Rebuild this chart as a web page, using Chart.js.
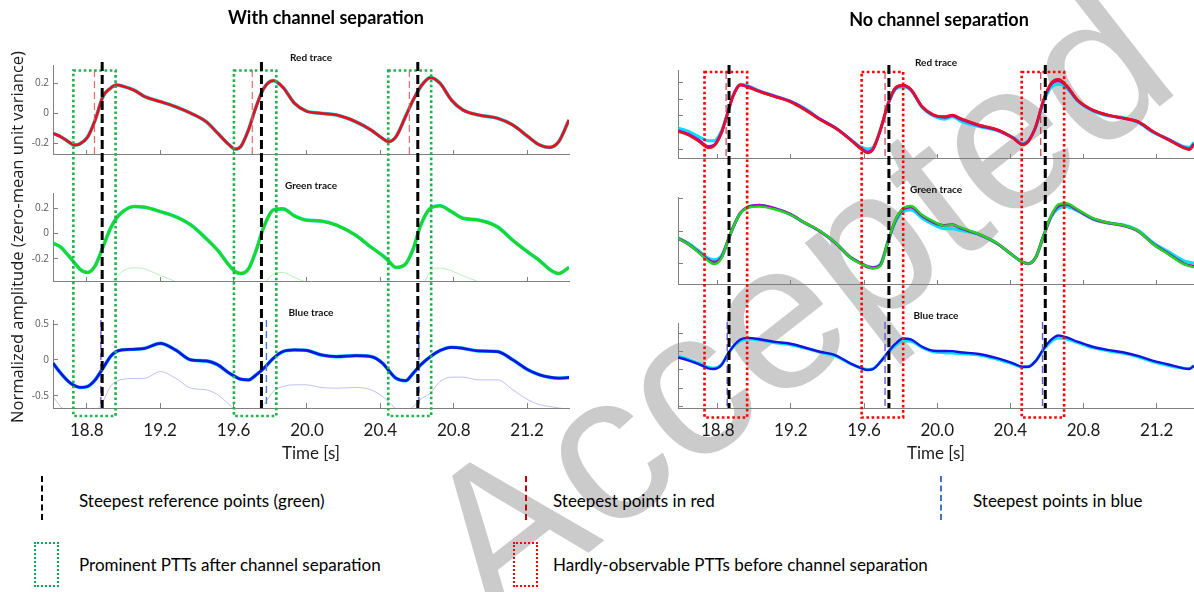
<!DOCTYPE html>
<html>
<head>
<meta charset="utf-8">
<script src="https://cdn.jsdelivr.net/npm/chart.js@4.4.1/dist/chart.umd.min.js"></script>
<style>
  body { margin: 0; width: 1194px; height: 592px; overflow: hidden; background: #fff; position: relative; font-family: Lato, sans-serif; }
  #wm { position: absolute; left: 795px; top: 300px; transform: translate(-50%, -50%) rotate(-38deg); font: 210px 'Liberation Sans', Arial, sans-serif; color: #cbcbcb; white-space: nowrap; line-height: 1; }
  canvas { position: absolute; top: 0; }
  .ttl { position: absolute; font-weight: bold; font-size: 18px; transform: translate(-50%, -50%); white-space: nowrap; color: #000; }
  .leg { position: absolute; font-size: 17px; color: #000; transform: translateY(-50%); white-space: nowrap; }
  .dash { position: absolute; width: 0; height: 44px; border-left: 2px dashed; }
  .box { position: absolute; width: 21px; height: 41px; border: 2.5px dotted; }
</style>
</head>
<body>
<div id="wm">Accepted</div>
<canvas id="leftChart" width="580" height="470" style="left:0"></canvas>
<canvas id="rightChart" width="594" height="470" style="left:600px"></canvas>
<div class="ttl" style="left:326px; top:17px">With channel separation</div>
<div class="ttl" style="left:939px; top:19px">No channel separation</div>

<div class="dash" style="left:41px; top:476px; border-color:#000"></div>
<div class="leg" style="left:79px; top:500px">Steepest reference points (green)</div>
<div class="dash" style="left:525px; top:476px; border-color:#c00000"></div>
<div class="leg" style="left:553px; top:500px">Steepest points in red</div>
<div class="dash" style="left:940px; top:476px; border-color:#4472c4"></div>
<div class="leg" style="left:973px; top:500px">Steepest points in blue</div>
<div class="box" style="left:34px; top:542px; border-color:#00b050"></div>
<div class="leg" style="left:79px; top:564px">Prominent PTTs after channel separation</div>
<div class="box" style="left:513px; top:542px; border-color:#ff0000"></div>
<div class="leg" style="left:553px; top:564px">Hardly-observable PTTs before channel separation</div>

<script>
// ---- With channel separation (left) ----
const timeL = [18.616, 18.658, 18.700, 18.731, 18.762, 18.804, 18.846, 18.888, 18.929, 18.961,
  18.992, 19.055, 19.117, 19.201, 19.284, 19.368, 19.451, 19.514, 19.577, 19.608,
  19.639, 19.681, 19.723, 19.765, 19.817, 19.869, 19.932, 19.994, 20.078, 20.161,
  20.266, 20.349, 20.412, 20.443, 20.485, 20.537, 20.579, 20.620, 20.673, 20.725,
  20.787, 20.850, 20.934, 21.038, 21.122, 21.205, 21.268, 21.320, 21.372, 21.428];
const redL = [-0.133, -0.156, -0.189, -0.211, -0.204, -0.16, -0.044, 0.111, 0.167, 0.189,
  0.182, 0.156, 0.111, 0.078, 0.044, 0, -0.056, -0.133, -0.211, -0.238,
  -0.222, -0.111, 0.044, 0.167, 0.218, 0.173, 0.067, 0.016, 0, -0.011,
  -0.056, -0.111, -0.167, -0.189, -0.156, -0.022, 0.089, 0.178, 0.238, 0.2,
  0.089, 0.022, -0.011, -0.033, -0.078, -0.156, -0.211, -0.227, -0.189, -0.044];
const greenL = [-0.075, -0.107, -0.173, -0.227, -0.28, -0.307, -0.253, -0.107, 0.04, 0.12,
  0.168, 0.213, 0.208, 0.173, 0.133, 0.067, -0.04, -0.133, -0.253, -0.299,
  -0.315, -0.28, -0.133, 0.053, 0.187, 0.195, 0.139, 0.107, 0.099, 0.067,
  -0.013, -0.107, -0.173, -0.213, -0.267, -0.24, -0.12, 0.067, 0.2, 0.219,
  0.173, 0.12, 0.107, 0.053, -0.053, -0.147, -0.213, -0.28, -0.315, -0.267];
const blueL = [-0.046, -0.185, -0.301, -0.356, -0.384, -0.37, -0.278, -0.116, 0.046, 0.116,
  0.139, 0.148, 0.162, 0.231, 0.139, 0, -0.014, -0.069, -0.185, -0.231,
  -0.269, -0.278, -0.208, -0.116, 0.023, 0.116, 0.139, 0.134, 0.069, 0.046,
  0.06, 0.046, -0.046, -0.139, -0.255, -0.29, -0.185, -0.069, 0.046, 0.13,
  0.176, 0.162, 0.125, 0.116, 0, -0.139, -0.208, -0.241, -0.255, -0.245];
const greenFaintL = [-0.6, -0.62, -0.65, -0.66, -0.66, -0.64, -0.58, -0.5, -0.4, -0.35,
  -0.3, -0.27, -0.28, -0.33, -0.38, -0.45, -0.53, -0.6, -0.68, -0.7,
  -0.7, -0.62, -0.5, -0.4, -0.32, -0.307, -0.347, -0.381, -0.4, -0.43,
  -0.5, -0.58, -0.64, -0.67, -0.7, -0.67, -0.58, -0.45, -0.3, -0.272,
  -0.293, -0.333, -0.38, -0.45, -0.52, -0.6, -0.65, -0.7, -0.72, -0.7];
const blueFaintL = [-0.51, -0.65, -0.74, -0.8, -0.82, -0.8, -0.72, -0.58, -0.37, -0.3,
  -0.27, -0.26, -0.255, -0.162, -0.255, -0.394, -0.417, -0.486, -0.625, -0.7,
  -0.74, -0.75, -0.7, -0.62, -0.44, -0.37, -0.347, -0.347, -0.384, -0.394,
  -0.384, -0.417, -0.51, -0.58, -0.68, -0.72, -0.65, -0.55, -0.46, -0.3,
  -0.24, -0.24, -0.278, -0.278, -0.417, -0.556, -0.625, -0.648, -0.67, -0.69];
const refL = [18.884, 19.752, 20.604];
const redSteepL = [18.842, 19.702, 20.558];
const blueSteepL = [18.877, 19.779, 20.610];
const pttStartL = [18.727, 19.602, 20.443];
const pttEndL = [18.957, 19.833, 20.677];

// ---- No channel separation (right) ----
const timeR = [18.583, 18.634, 18.696, 18.748, 18.779, 18.821, 18.852, 18.883, 18.924, 18.966,
  19.028, 19.111, 19.193, 19.276, 19.359, 19.442, 19.525, 19.587, 19.618, 19.649,
  19.690, 19.732, 19.773, 19.814, 19.856, 19.918, 19.980, 20.042, 20.084, 20.125,
  20.229, 20.332, 20.415, 20.467, 20.498, 20.539, 20.581, 20.622, 20.663, 20.705,
  20.767, 20.850, 20.932, 21.015, 21.098, 21.181, 21.264, 21.347, 21.378, 21.404];
const redR = [-0.094, -0.114, -0.154, -0.194, -0.184, -0.104, 0.006, 0.116, 0.186, 0.172,
  0.146, 0.116, 0.086, 0.036, -0.024, -0.074, -0.144, -0.204, -0.224, -0.204,
  -0.084, 0.076, 0.172, 0.186, 0.16, 0.056, 0.006, -0.004, 0.006, -0.014,
  -0.054, -0.084, -0.134, -0.174, -0.154, -0.064, 0.096, 0.196, 0.22, 0.186,
  0.096, 0.036, 0.006, -0.014, -0.034, -0.094, -0.144, -0.194, -0.204, -0.174];
const redMagR = [-0.09, -0.108, -0.146, -0.185, -0.178, -0.1, 0.008, 0.116, 0.186, 0.175,
  0.148, 0.118, 0.088, 0.04, -0.02, -0.072, -0.142, -0.2, -0.218, -0.2,
  -0.084, 0.074, 0.168, 0.183, 0.158, 0.054, 0.004, -0.008, 0.002, -0.018,
  -0.058, -0.087, -0.134, -0.172, -0.152, -0.064, 0.092, 0.19, 0.212, 0.182,
  0.094, 0.034, 0.004, -0.014, -0.036, -0.096, -0.143, -0.19, -0.2, -0.17];
const redCyanR = [-0.074, -0.09, -0.125, -0.15, -0.15, -0.09, 0.01, 0.12, 0.19, 0.18,
  0.15, 0.12, 0.09, 0.045, -0.02, -0.07, -0.14, -0.19, -0.2, -0.19,
  -0.08, 0.07, 0.16, 0.175, 0.155, 0.05, 0.0, -0.02, -0.005, -0.03,
  -0.065, -0.09, -0.13, -0.165, -0.15, -0.07, 0.08, 0.17, 0.19, 0.17,
  0.09, 0.03, 0.0, -0.01, -0.04, -0.1, -0.14, -0.185, -0.19, -0.16];
const greenR = [-0.043, -0.076, -0.131, -0.182, -0.202, -0.165, -0.07, 0.02, 0.11, 0.145,
  0.151, 0.135, 0.104, 0.053, 0.002, -0.069, -0.161, -0.202, -0.216, -0.229,
  -0.212, -0.059, 0.073, 0.141, 0.155, 0.1, 0.06, 0.033, 0.039, 0.025,
  -0.018, -0.077, -0.151, -0.19, -0.2, -0.161, -0.029, 0.094, 0.165, 0.172,
  0.135, 0.08, 0.053, 0.037, 0.002, -0.08, -0.141, -0.202, -0.213, -0.222];
const greenMagR = [-0.043, -0.075, -0.128, -0.175, -0.19, -0.16, -0.07, 0.02, 0.112, 0.15,
  0.16, 0.14, 0.106, 0.052, 0.0, -0.07, -0.16, -0.2, -0.218, -0.225,
  -0.208, -0.06, 0.07, 0.135, 0.148, 0.095, 0.055, 0.035, 0.04, 0.02,
  -0.02, -0.078, -0.15, -0.19, -0.2, -0.16, -0.03, 0.09, 0.155, 0.165,
  0.13, 0.078, 0.052, 0.035, 0.0, -0.078, -0.138, -0.198, -0.21, -0.215];
const greenCyanR = [-0.04, -0.07, -0.12, -0.165, -0.175, -0.15, -0.07, 0.02, 0.11, 0.145,
  0.16, 0.14, 0.105, 0.05, 0.0, -0.07, -0.16, -0.2, -0.215, -0.222,
  -0.2, -0.06, 0.06, 0.12, 0.13, 0.08, 0.04, 0.015, 0.015, 0.005,
  -0.02, -0.08, -0.15, -0.19, -0.198, -0.16, -0.03, 0.085, 0.14, 0.15,
  0.125, 0.075, 0.05, 0.04, 0.005, -0.07, -0.125, -0.18, -0.19, -0.195];
const blueR = [0.138, 0.109, 0.065, 0.018, 0.011, 0.055, 0.164, 0.255, 0.335, 0.353,
  0.338, 0.309, 0.291, 0.247, 0.2, 0.164, 0.073, 0.018, 0.0, 0.01,
  0.09, 0.2, 0.29, 0.345, 0.335, 0.255, 0.211, 0.208, 0.207, 0.195,
  0.175, 0.127, 0.073, 0.035, 0.035, 0.1, 0.23, 0.33, 0.378, 0.36,
  0.31, 0.255, 0.22, 0.195, 0.155, 0.1, 0.06, 0.018, 0.01, 0.044];
const blueCyanR = [0.15, 0.12, 0.075, 0.03, 0.02, 0.06, 0.16, 0.25, 0.32, 0.34,
  0.33, 0.3, 0.28, 0.24, 0.195, 0.155, 0.07, 0.02, 0.005, 0.015,
  0.09, 0.19, 0.27, 0.32, 0.315, 0.245, 0.2, 0.19, 0.185, 0.18,
  0.165, 0.115, 0.065, 0.03, 0.035, 0.1, 0.22, 0.31, 0.35, 0.34,
  0.3, 0.245, 0.21, 0.185, 0.145, 0.09, 0.05, 0.02, 0.015, 0.05];
const refR = [18.862, 19.736, 20.591];
const redSteepR = [18.846, 19.715, 20.566];
const blueSteepR = [18.852, 19.715, 20.576];
const pttStartR = [18.728, 19.587, 20.462];
const pttEndR = [18.961, 19.814, 20.694];

// tick labels
const timeTicks = [18.8, 19.2, 19.6, 20.0, 20.4, 20.8, 21.2];
const ticksRedL = [-0.2, 0, 0.2];
const ticksGreenL = [-0.2, 0, 0.2];
const ticksBlueL = [-0.5, 0, 0.5];
const ticksRedR = [-0.2, -0.1, 0, 0.1, 0.2];
const ticksGreenR = [-0.2, 0, 0.2];
const ticksBlueR = [-0.4, -0.2, 0, 0.2, 0.4];
const subTitles = ['Red trace', 'Green trace', 'Blue trace'];

const axisColor = '#7f7f7f';
Chart.defaults.font.family = 'Lato';
Chart.defaults.color = '#1a1a1a';

// order: lower numbers are drawn on top
function trace(times, values, yAxisID, color, width, order) {
  return {
    data: times.map((t, i) => ({ x: t, y: values[i] })),
    xAxisID: 'x', yAxisID: yAxisID, order: order,
    borderColor: color, borderWidth: width,
    pointRadius: 0, fill: false, cubicInterpolationMode: 'monotone'
  };
}

function rowAxis(min, max, ticks, stackW, order, width, labels, extra) {
  return Object.assign({
    type: 'linear', position: 'left', stack: 'rows', stackWeight: stackW, weight: order,
    min: min, max: max,
    border: { color: axisColor },
    grid: { drawOnChartArea: false, tickLength: -5, color: axisColor },
    afterBuildTicks: s => { s.ticks = ticks.map(v => ({ value: v })); },
    ticks: {
      display: labels, padding: 9, color: '#595959',
      font: { size: 10, family: 'Open Sans' },
      callback: v => v === 0 ? '0' : v.toFixed(1)
    },
    afterFit: s => { s.width = width; }
  }, extra || {});
}

function gapAxis(stackW, order) {
  return { type: 'linear', position: 'left', display: false, stack: 'rows', stackWeight: stackW, weight: order };
}

function timeAxis(min, max, extra) {
  return Object.assign({
    type: 'linear', min: min, max: max,
    border: { color: axisColor },
    grid: { drawOnChartArea: false, tickLength: -5, color: axisColor },
    afterBuildTicks: s => { s.ticks = timeTicks.map(v => ({ value: v })); }
  }, extra);
}

// keep each trace inside its own row
const clipRows = {
  id: 'clipRows',
  beforeDatasetDraw(chart, args) {
    const ys = args.meta.yScale, a = chart.chartArea;
    chart.ctx.save();
    chart.ctx.beginPath();
    chart.ctx.rect(a.left, ys.top - 2, a.right - a.left, ys.bottom - ys.top + 2);
    chart.ctx.clip();
  },
  afterDatasetDraw(chart) { chart.ctx.restore(); }
};

// steepest-point lines, PTT boxes and row titles
const markers = {
  id: 'markers',
  afterDatasetsDraw(chart, args, o) {
    const { ctx, scales } = chart;
    const yR = scales.yR, yB = scales.yB;
    const px = t => scales.x.getPixelForValue(t);
    const vline = (t, y0, y1, color, width, dash) => {
      ctx.beginPath();
      ctx.strokeStyle = color; ctx.lineWidth = width; ctx.setLineDash(dash);
      ctx.moveTo(px(t), y0); ctx.lineTo(px(t), y1); ctx.stroke();
    };
    ctx.save();
    o.redSteep.forEach(t => vline(t, yR.top + o.redTop, yR.bottom, o.redDash, 1.2, [7, 4]));
    o.blueSteep.forEach((t, i) => vline(t, yB.top + o.blueTop, yB.bottom, o.blueDash[i], 1.4, [7, 4]));
    ctx.strokeStyle = o.boxColor; ctx.lineWidth = 2.6; ctx.setLineDash([2.6, 2.6]);
    o.boxStart.forEach((t, i) => {
      const x0 = px(t), x1 = px(o.boxEnd[i]);
      const y0 = yR.top + o.boxTop, y1 = yB.bottom + o.boxBottom;
      ctx.strokeRect(x0, y0, x1 - x0, y1 - y0);
    });
    o.reference.forEach(t => vline(t, yR.top + o.refTop, yB.bottom, '#000', 3, [9, 4]));
    ctx.setLineDash([]);
    ctx.fillStyle = '#111';
    ctx.font = 'bold 10px Lato';
    ctx.textAlign = 'center';
    ctx.textBaseline = 'middle';
    const cx = (chart.chartArea.left + chart.chartArea.right) / 2;
    ['yR', 'yG', 'yB'].forEach((id, i) => ctx.fillText(subTitles[i], cx, scales[id].top - 7.5));
    ctx.restore();
  }
};

function panel(id, cfg) {
  const rows = cfg.rows;
  new Chart(document.getElementById(id), {
    type: 'line',
    data: { datasets: cfg.datasets },
    options: {
      responsive: false,
      animation: false,
      layout: { padding: cfg.padding },
      plugins: { legend: { display: false }, tooltip: { enabled: false }, markers: cfg.markers },
      scales: {
        x: timeAxis(cfg.xMin, cfg.xMax, {
          position: 'bottom',
          ticks: { padding: 17, maxRotation: 0, color: '#1a1a1a', font: { size: 17 }, callback: v => v.toFixed(1) },
          title: { display: true, text: 'Time [s]', color: '#1a1a1a', font: { size: 17 }, padding: { top: 0, bottom: 6 } },
          afterFit: s => { s.height = 62; }
        }),
        xR: timeAxis(cfg.xMin, cfg.xMax, { axis: 'x', position: { yR: rows[0].min }, ticks: { display: false } }),
        xG: timeAxis(cfg.xMin, cfg.xMax, { axis: 'x', position: { yG: rows[1].min }, ticks: { display: false } }),
        yR: rowAxis(rows[0].min, rows[0].max, rows[0].ticks, rows[0].h, 5, cfg.axisW, cfg.labels),
        gap1: gapAxis(39, 4),
        yG: rowAxis(rows[1].min, rows[1].max, rows[1].ticks, rows[1].h, 3, cfg.axisW, cfg.labels, cfg.yTitle ? {
          title: { display: true, text: cfg.yTitle, color: '#1a1a1a', font: { size: 16.5, family: 'Open Sans' }, padding: { top: 8, bottom: 0 } }
        } : null),
        gap2: gapAxis(39, 2),
        yB: rowAxis(rows[2].min, rows[2].max, rows[2].ticks, rows[2].h, 1, cfg.axisW, cfg.labels)
      }
    },
    plugins: [clipRows, markers]
  });
}

const cyan = 'rgb(0,225,240)', magenta = 'rgb(170,0,200)';
const redC = 'rgb(232,16,30)', greenC = 'rgb(30,215,30)', blueC = 'rgb(20,20,225)';

panel('leftChart', {
  xMin: 18.616, xMax: 21.428, axisW: 53, labels: true,
  padding: { top: 65, right: 11, left: 0, bottom: 0 },
  yTitle: 'Normalized amplitude (zero-mean unit variance)',
  rows: [
    { min: -0.271, max: 0.322, ticks: ticksRedL, h: 89 },
    { min: -0.374, max: 0.32, ticks: ticksGreenL, h: 88 },
    { min: -0.67, max: 0.556, ticks: ticksBlueL, h: 88 }
  ],
  datasets: [
    trace(timeL, redL, 'yR', cyan, 3.6, 2),
    trace(timeL, redL, 'yR', redC, 2.8, 0),
    trace(timeL, greenFaintL, 'yG', 'rgba(130,230,130,0.55)', 1, 3),
    trace(timeL, greenL, 'yG', cyan, 3.6, 2),
    trace(timeL, greenL, 'yG', greenC, 2.8, 0),
    trace(timeL, blueFaintL, 'yB', 'rgba(150,150,235,0.6)', 1, 3),
    trace(timeL, blueL, 'yB', cyan, 3.6, 2),
    trace(timeL, blueL, 'yB', blueC, 2.8, 0)
  ],
  markers: {
    reference: refL, redSteep: redSteepL, blueSteep: blueSteepL,
    boxStart: pttStartL, boxEnd: pttEndL, boxColor: '#1fb24a',
    refTop: -3, redTop: 5, blueTop: 0, boxTop: 5.5, boxBottom: 8,
    redDash: 'rgba(225,90,90,0.9)', blueDash: ['#8a4fd8', '#3b7de0', '#3b5be0']
  }
});

panel('rightChart', {
  xMin: 18.583, xMax: 21.404, axisW: 78, labels: false,
  padding: { top: 70, right: 0, left: 0, bottom: 0 },
  rows: [
    { min: -0.254, max: 0.276, ticks: ticksRedR, h: 88 },
    { min: -0.324, max: 0.21, ticks: ticksGreenR, h: 87 },
    { min: -0.418, max: 0.516, ticks: ticksBlueR, h: 85 }
  ],
  datasets: [
    trace(timeR, redCyanR, 'yR', cyan, 3, 2),
    trace(timeR, redMagR, 'yR', magenta, 3, 1),
    trace(timeR, redR, 'yR', redC, 2.4, 0),
    trace(timeR, greenCyanR, 'yG', cyan, 3, 2),
    trace(timeR, greenMagR, 'yG', magenta, 3, 1),
    trace(timeR, greenR, 'yG', greenC, 2.4, 0),
    trace(timeR, blueCyanR, 'yB', cyan, 3, 2),
    trace(timeR, blueR, 'yB', blueC, 2.4, 0)
  ],
  markers: {
    reference: refR, redSteep: redSteepR, blueSteep: blueSteepR,
    boxStart: pttStartR, boxEnd: pttEndR, boxColor: '#ff0000',
    refTop: -5, redTop: 2, blueTop: -1, boxTop: 2, boxBottom: 9.5,
    redDash: 'rgba(200,40,60,0.9)', blueDash: ['#6a5ae0', '#6a5ae0', '#6a5ae0']
  }
});
</script>
</body>
</html>
